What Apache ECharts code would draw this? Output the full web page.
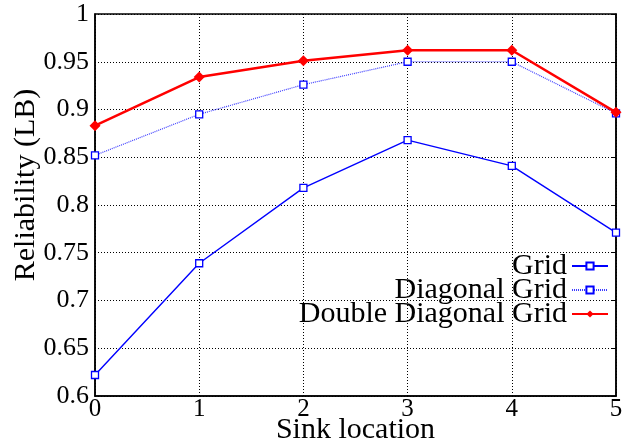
<!DOCTYPE html>
<html>
<head>
<meta charset="utf-8">
<script src="https://cdn.jsdelivr.net/npm/echarts@6/dist/echarts.min.js"></script>
<style>
  html, body { margin: 0; padding: 0; background: #fff; }
  #chart { width: 625px; height: 444px; }
</style>
</head>
<body>
<div id="chart"></div>
<script>
// Sink positions along the x axis
const sinkLocations = ['0', '1', '2', '3', '4', '5'];
// Reliability lower bound for each topology
const gridValues = [0.622, 0.739, 0.818, 0.868, 0.841, 0.771];
const diagonalGridValues = [0.852, 0.895, 0.926, 0.950, 0.950, 0.896];
const doubleDiagonalGridValues = [0.883, 0.934, 0.951, 0.962, 0.962, 0.897];
// Y tick values
const yTicks = [0.6, 0.65, 0.7, 0.75, 0.8, 0.85, 0.9, 0.95, 1];
const seriesNames = ['Grid', 'Diagonal Grid', 'Double Diagonal Grid'];

const FONT = 'Liberation Serif';
const chart = echarts.init(document.getElementById('chart'), null, { renderer: 'canvas' });

const dotted = { color: '#000', width: 1, type: [1, 2] };

chart.setOption({
  animation: false,
  backgroundColor: '#fff',
  textStyle: { fontFamily: FONT, color: '#000' },
  grid: {
    left: 95, top: 14, width: 521, height: 382,
    outerBoundsMode: 'none', containLabel: false,
    show: true, borderColor: '#000', borderWidth: 1.5, backgroundColor: 'transparent'
  },
  legend: {
    orient: 'vertical',
    align: 'right',
    right: 16,
    top: 251,
    itemWidth: 36,
    itemHeight: 9,
    itemGap: -6,
    padding: 0,
    textStyle: { fontFamily: FONT, fontSize: 30, color: '#000' },
    data: seriesNames
  },
  xAxis: {
    type: 'category',
    data: sinkLocations,
    boundaryGap: false,
    name: 'Sink location',
    nameLocation: 'middle',
    nameGap: 19,
    nameMoveOverlap: false,
    nameTextStyle: { fontFamily: FONT, fontSize: 30, color: '#000' },
    axisLine: { show: true, lineStyle: { color: '#000', width: 1.5 } },
    axisTick: { show: false },
    axisLabel: { margin: 1, fontFamily: FONT, fontSize: 25, color: '#000' },
    splitLine: { show: true, lineStyle: dotted }
  },
  yAxis: [{
    type: 'value',
    min: yTicks[0],
    max: yTicks[yTicks.length - 1],
    interval: 0.05,
    name: 'Reliability (LB)',
    nameLocation: 'middle',
    nameGap: 54,
    nameMoveOverlap: false,
    nameTextStyle: { fontFamily: FONT, fontSize: 30, color: '#000', padding: [0, 0, 0, 40] },
    axisLine: { show: true, lineStyle: { color: '#000', width: 1.5 } },
    axisTick: { show: false },
    axisLabel: {
      margin: 6, fontFamily: FONT, fontSize: 26, color: '#000',
      formatter: v => {
        const t = yTicks.find(x => Math.abs(x - v) < 1e-9);
        return t === undefined ? '' : String(t);
      }
    },
    splitLine: { show: true, lineStyle: dotted }
  }, {
    type: 'value',
    position: 'right',
    min: yTicks[0],
    max: yTicks[yTicks.length - 1],
    interval: 0.05,
    axisLine: { show: true, lineStyle: { color: '#000', width: 1.5 } },
    axisTick: { show: true, inside: true, length: 5, lineStyle: { color: '#000', width: 1 } },
    axisLabel: { show: false },
    splitLine: { show: false }
  }],
  series: [
    {
      name: seriesNames[0],
      type: 'line',
      data: gridValues,
      clip: false,
      symbol: 'rect',
      symbolSize: 7,
      lineStyle: { color: '#0000ff', width: 1.4 },
      itemStyle: { color: '#ffffff', borderColor: '#0000ff', borderWidth: 1.3 },
      z: 3
    },
    {
      name: seriesNames[1],
      type: 'line',
      data: diagonalGridValues,
      clip: false,
      symbol: 'rect',
      symbolSize: 7,
      lineStyle: { color: '#3a3aff', width: 1.2, type: [1, 1] },
      itemStyle: { color: '#ffffff', borderColor: '#0000ff', borderWidth: 1.3 },
      z: 4
    },
    {
      name: seriesNames[2],
      type: 'line',
      data: doubleDiagonalGridValues,
      clip: false,
      symbol: 'diamond',
      symbolSize: 11,
      lineStyle: { color: '#ff0000', width: 2.5 },
      itemStyle: { color: '#ff0000', borderColor: '#ff0000', borderWidth: 0 },
      z: 5
    }
  ]
});
</script>
</body>
</html>
